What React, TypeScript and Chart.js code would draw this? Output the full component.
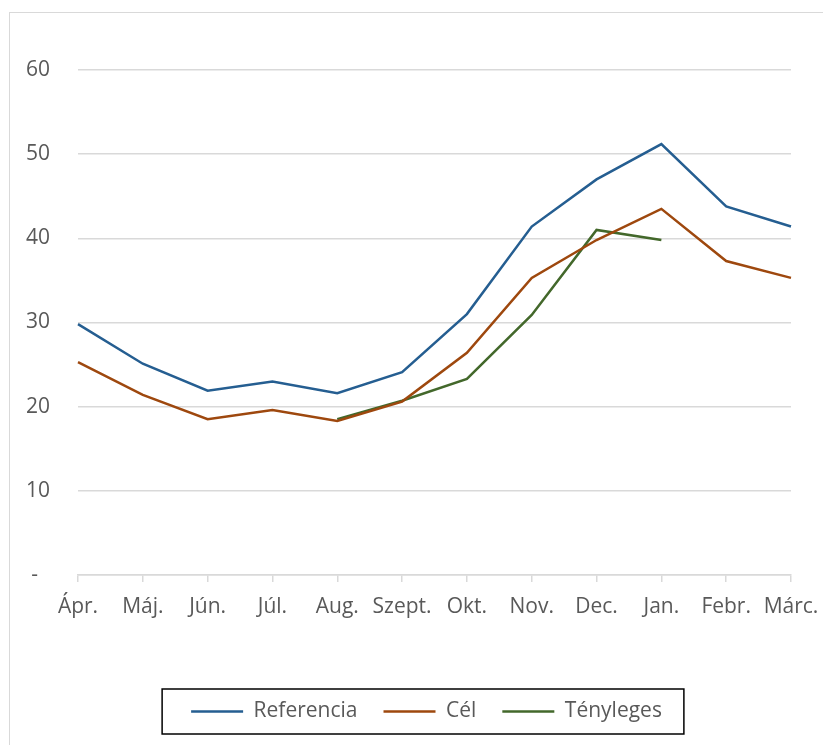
import React, { useEffect, useRef } from 'react';
import { Chart, registerables } from 'chart.js';

Chart.register(...registerables);

const categories = ['Ápr.', 'Máj.', 'Jún.', 'Júl.', 'Aug.', 'Szept.', 'Okt.', 'Nov.', 'Dec.', 'Jan.', 'Febr.', 'Márc.'];
const referencia = [29.8, 25.1, 21.9, 23.0, 21.6, 24.1, 31.0, 41.4, 47.0, 51.2, 43.8, 41.4];
const cel = [25.3, 21.4, 18.5, 19.6, 18.3, 20.6, 26.4, 35.3, 39.8, 43.5, 37.3, 35.3];
const tenyleges = [null, null, null, null, 18.5, 20.7, 23.3, 30.9, 41.0, 39.8, null, null];
const seriesNames = ['Referencia', 'Cél', 'Tényleges'];
const seriesColors = ['#255E91', '#9E480E', '#43682B'];
const yMin = 0;
const yMax = 60;
const yStep = 10;

const FONT = '"Open Sans", Lato, sans-serif';
const FONT_SIZE = 21;
const TEXT = '#595959';
const GRID = '#D9D9D9';
const LEGEND_SHIFT = 26;

const legendShift = {
  id: 'legendShift',
  afterLayout(chart: any) {
    const lg = chart.legend;
    if (!lg) return;
    lg.left += LEGEND_SHIFT;
    lg.right += LEGEND_SHIFT;
    (lg.legendHitBoxes || []).forEach((h: any) => {
      h.left += LEGEND_SHIFT;
    });
  },
};

const legendBorder = {
  id: 'legendBorder',
  afterDraw(chart: any) {
    const lg = chart.legend;
    const hb = lg && lg.legendHitBoxes;
    if (!hb || !hb.length) return;
    const first = hb[0];
    const last = hb[hb.length - 1];
    const cy = first.top + first.height / 2;
    const left = first.left - 29;
    const right = last.left + last.width + 22;
    const ctx = chart.ctx;
    ctx.save();
    ctx.strokeStyle = '#000000';
    ctx.lineWidth = 1.5;
    ctx.strokeRect(left, cy - 22.5, right - left, 45);
    ctx.restore();
  },
};

export default function App() {
  const ref = useRef<HTMLCanvasElement>(null);

  useEffect(() => {
    if (!ref.current) return;
    const data = [referencia, cel, tenyleges];
    const chart = new Chart(ref.current, {
      type: 'line',
      data: {
        labels: categories,
        datasets: data.map((d, i) => ({
          label: seriesNames[i],
          data: d as any,
          borderColor: seriesColors[i],
          backgroundColor: seriesColors[i],
          borderWidth: 2.5,
          pointRadius: 0,
          pointHoverRadius: 0,
          tension: 0,
          fill: false,
          spanGaps: false,
          pointStyle: 'line',
        })),
      },
      options: {
        responsive: false,
        animation: false,
        devicePixelRatio: 1,
        layout: { padding: { left: 10, right: 32, top: 70, bottom: 13 } },
        plugins: {
          tooltip: { enabled: false },
          legend: {
            position: 'bottom',
            labels: {
              usePointStyle: true,
              pointStyle: 'line',
              pointStyleWidth: 52,
              padding: 26,
              color: TEXT,
              font: { family: FONT, size: FONT_SIZE },
            },
          },
        },
        scales: {
          x: {
            offset: false,
            grid: {
              display: true,
              drawOnChartArea: false,
              drawTicks: true,
              tickLength: 7,
              color: GRID,
              lineWidth: 1.5,
            },
            border: { display: true, color: GRID, width: 1.5 },
            ticks: {
              autoSkip: false,
              maxRotation: 0,
              padding: 12,
              color: TEXT,
              font: { family: FONT, size: FONT_SIZE },
            },
            afterFit(scale: any) {
              scale.height = 100;
              scale.paddingLeft = 0;
              scale.paddingRight = 0;
            },
          },
          y: {
            min: yMin,
            max: yMax,
            grid: { color: GRID, lineWidth: 1.5, drawTicks: false },
            border: { display: false },
            ticks: {
              stepSize: yStep,
              padding: 28,
              color: TEXT,
              font: { family: FONT, size: FONT_SIZE },
              callback: (v: any) => (v === 0 ? '-\u2007' : String(v)),
            },
            afterFit(scale: any) {
              scale.width = 68;
            },
          },
        },
      },
      plugins: [legendShift, legendBorder],
    });
    return () => chart.destroy();
  }, []);

  return (
    <div style={{ position: 'absolute', left: 0, top: 0, width: 823, height: 745, overflow: 'hidden', background: '#fff' }}>
      <div
        style={{
          position: 'absolute',
          left: 9,
          top: 12,
          width: 900,
          height: 900,
          border: '1.5px solid #D9D9D9',
          boxSizing: 'border-box',
        }}
      />
      <canvas ref={ref} width={823} height={745} style={{ position: 'absolute', left: 0, top: 0, width: 823, height: 745 }} />
    </div>
  );
}
